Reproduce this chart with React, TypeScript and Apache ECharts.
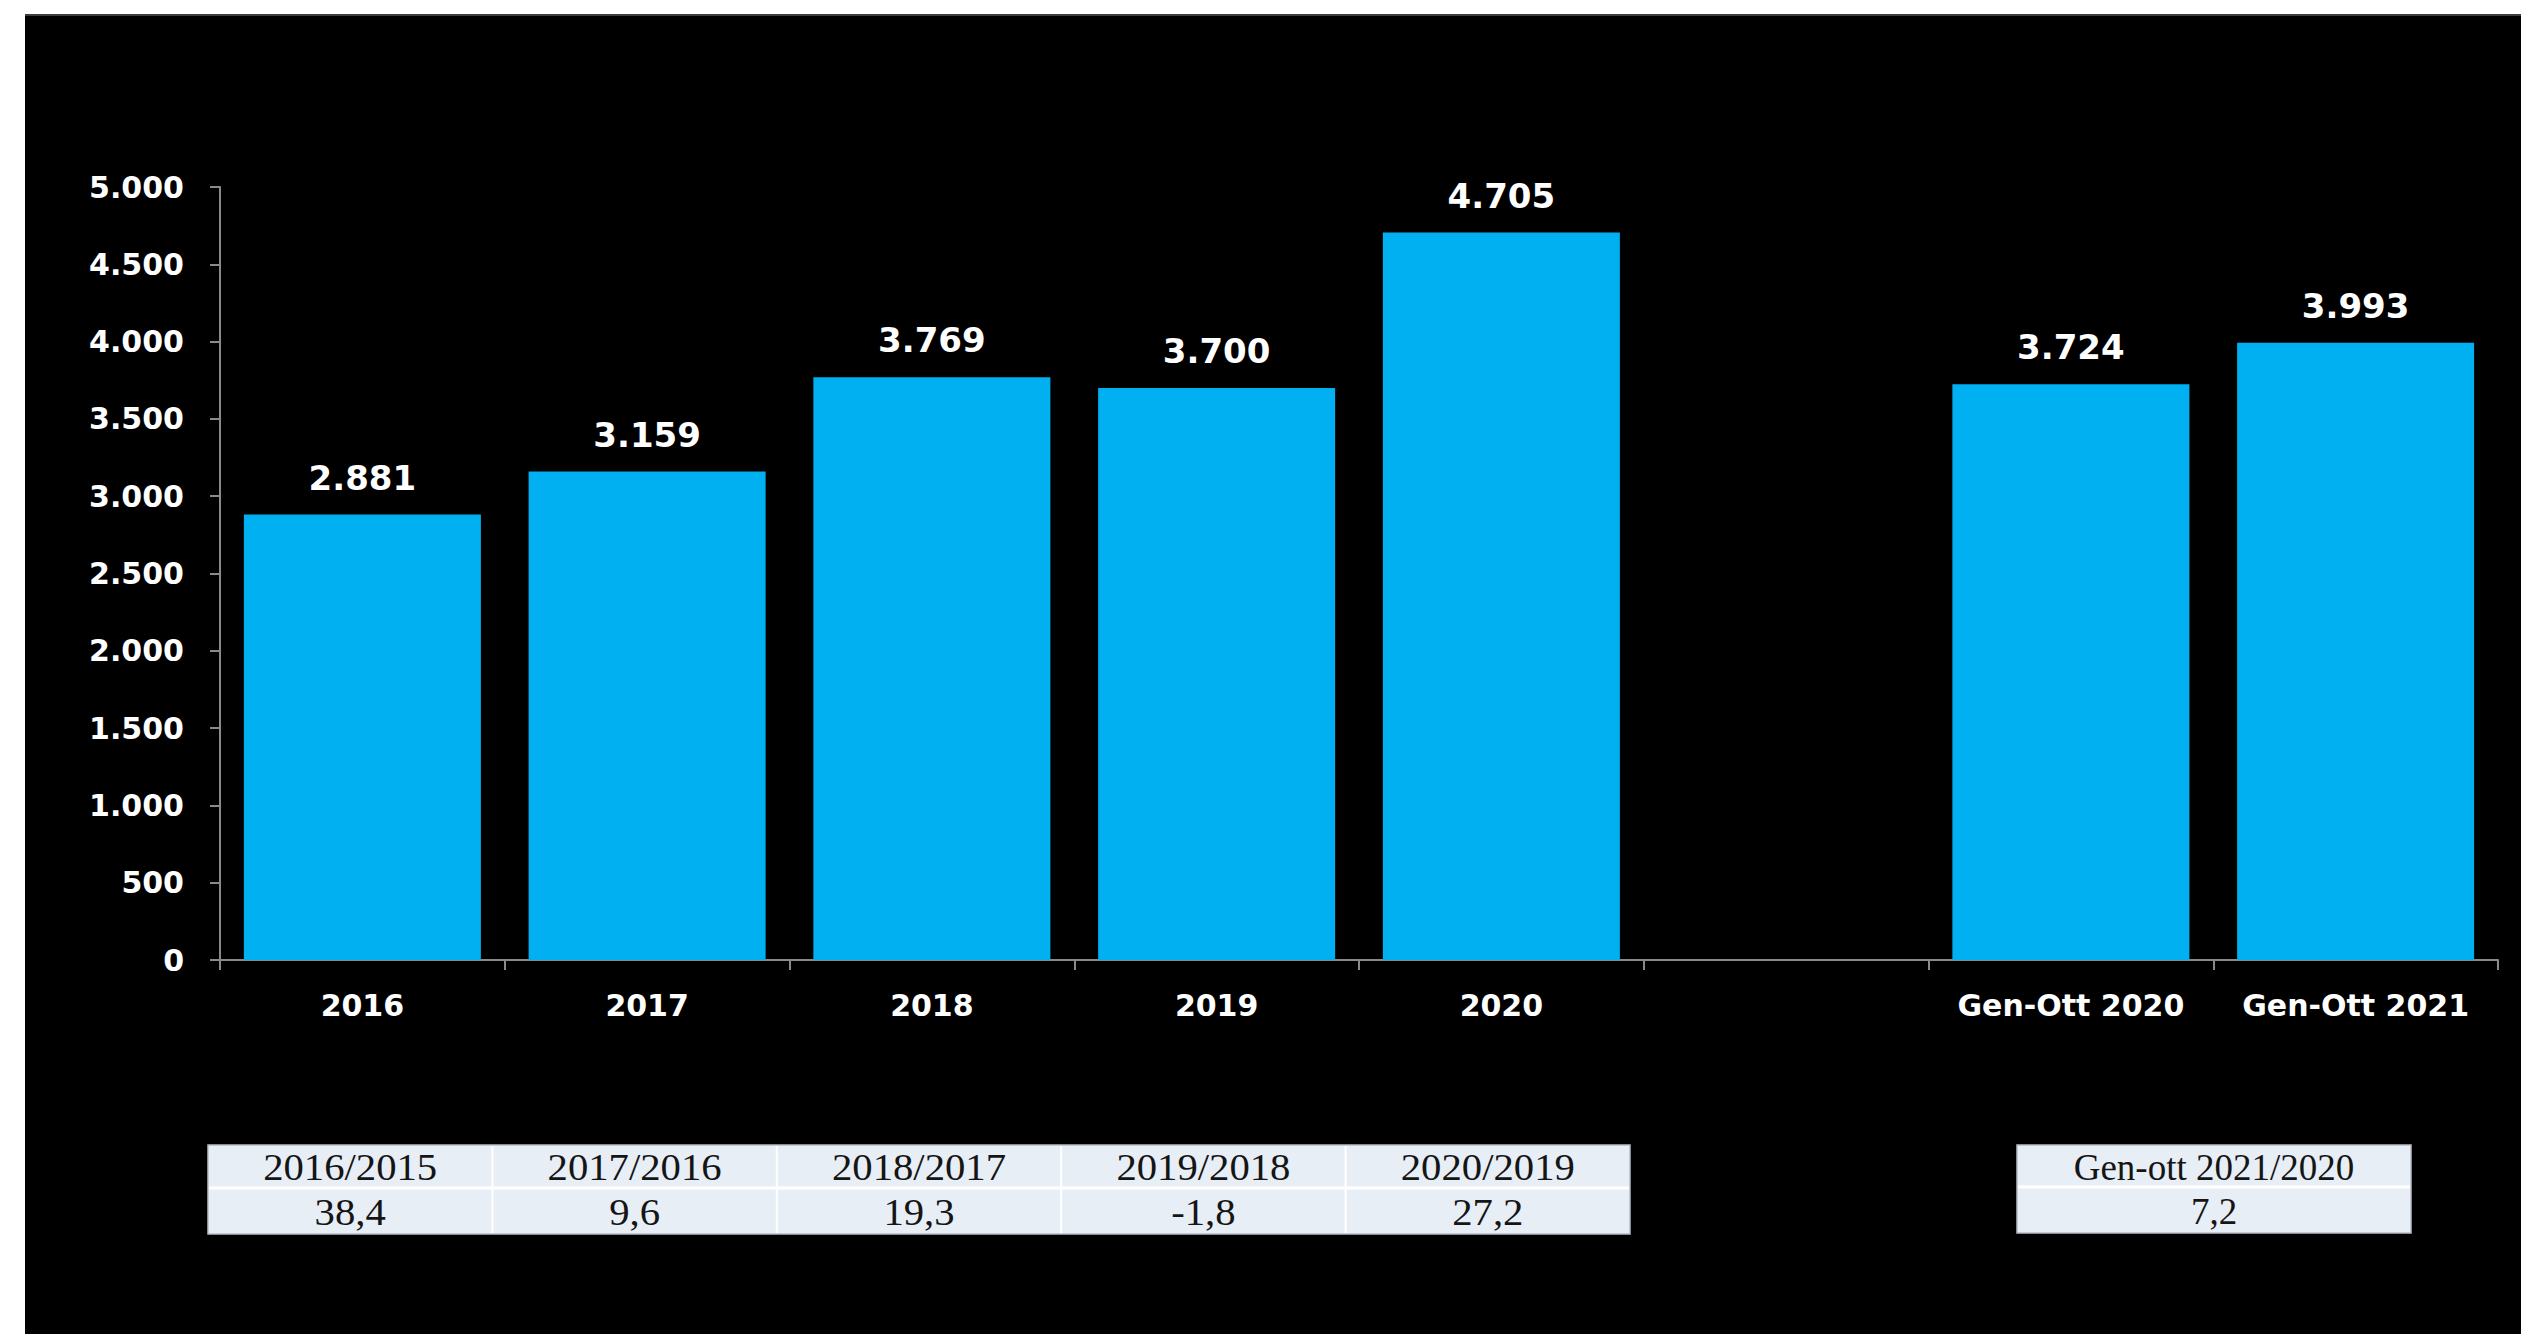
import React, { useEffect, useRef } from "react";
import * as echarts from "echarts";

const categories = ["2016", "2017", "2018", "2019", "2020", "", "Gen-Ott 2020", "Gen-Ott 2021"];
const values: (number | null)[] = [2881, 3159, 3769, 3700, 4705, null, 3724, 3993];
const yMin = 0;
const yMax = 5000;
const yInterval = 500;

const table1Headers = ["2016/2015", "2017/2016", "2018/2017", "2019/2018", "2020/2019"];
const table1Values = ["38,4", "9,6", "19,3", "-1,8", "27,2"];
const table2Headers = ["Gen-ott 2021/2020"];
const table2Values = ["7,2"];

const W = 2521;
const H = 1334;
const BAR_COLOR = "#00B0F0";
const AXIS_COLOR = "#8a8a8a";
const SANS = '"DejaVu Sans", "Liberation Sans", Arial, sans-serif';
const SERIF = '"Liberation Serif", "Times New Roman", serif';

const fmt = (v: number) =>
  String(Math.round(v)).replace(/\B(?=(\d{3})+(?!\d))/g, ".");

function buildTable(
  headers: string[],
  vals: string[],
  x0: number,
  x1: number,
  y0: number,
  yMid: number,
  y1: number,
  scaleX: number
) {
  const els: any[] = [];
  const n = headers.length;
  const cw = (x1 - x0) / n;
  els.push({
    type: "rect",
    shape: { x: x0, y: y0, width: x1 - x0, height: y1 - y0 },
    style: { fill: "#E8EEF6", stroke: "#b8bcc4", lineWidth: 1.5 },
    z: 5,
  });
  els.push({
    type: "line",
    shape: { x1: x0 + 1, y1: yMid, x2: x1 - 1, y2: yMid },
    style: { stroke: "#ffffff", lineWidth: 3 },
    z: 6,
  });
  for (let i = 1; i < n; i++) {
    const cx = x0 + cw * i;
    els.push({
      type: "line",
      shape: { x1: cx, y1: y0 + 1, x2: cx, y2: y1 - 1 },
      style: { stroke: "#ffffff", lineWidth: 2 },
      z: 6,
    });
  }
  const rows = [
    { texts: headers, cy: (y0 + yMid) / 2 + 1 },
    { texts: vals, cy: (yMid + y1) / 2 + 1 },
  ];
  rows.forEach((r) => {
    r.texts.forEach((t, i) => {
      els.push({
        type: "text",
        x: x0 + cw * (i + 0.5),
        y: r.cy,
        scaleX,
        z: 7,
        style: {
          text: t,
          fill: "#151515",
          fontSize: 37,
          fontFamily: SERIF,
          fontWeight: "normal",
          align: "center",
          verticalAlign: "middle",
          textAlign: "center",
          textVerticalAlign: "middle",
        },
      });
    });
  });
  return els;
}

export default function App() {
  const ref = useRef<HTMLDivElement>(null);

  useEffect(() => {
    if (!ref.current) return;
    const chart = echarts.init(ref.current, undefined, { renderer: "svg" });
    const option: any = {
      animation: false,
      backgroundColor: "transparent",
      grid: { left: 220, right: W - 2498, top: 187, bottom: H - 960, containLabel: false },
      xAxis: {
        type: "category",
        data: categories,
        boundaryGap: true,
        axisLine: { show: true, lineStyle: { color: AXIS_COLOR, width: 2 } },
        axisTick: {
          show: true,
          alignWithLabel: false,
          interval: 0,
          length: 10,
          lineStyle: { color: AXIS_COLOR, width: 2 },
        },
        axisLabel: {
          interval: 0,
          color: "#ffffff",
          fontFamily: SANS,
          fontWeight: "bold",
          fontSize: 30,
          margin: 30,
        },
        splitLine: { show: false },
      },
      yAxis: {
        type: "value",
        min: yMin,
        max: yMax,
        interval: yInterval,
        axisLine: { show: true, lineStyle: { color: AXIS_COLOR, width: 2 } },
        axisTick: { show: true, length: 10, lineStyle: { color: AXIS_COLOR, width: 2 } },
        axisLabel: {
          color: "#ffffff",
          fontFamily: SANS,
          fontWeight: "bold",
          fontSize: 30,
          margin: 36,
          formatter: (v: number) => fmt(v),
        },
        splitLine: { show: false },
      },
      series: [
        {
          type: "bar",
          data: values,
          barWidth: 237,
          itemStyle: { color: BAR_COLOR },
          label: {
            show: true,
            position: "top",
            distance: 20,
            color: "#ffffff",
            fontFamily: SANS,
            fontWeight: "bold",
            fontSize: 34,
            formatter: (p: any) => (p.value == null ? "" : fmt(p.value)),
          },
        },
      ],
      graphic: [
        ...buildTable(table1Headers, table1Values, 208, 1630, 1145, 1188, 1234, 1.1),
        ...buildTable(table2Headers, table2Values, 2017, 2411, 1145, 1187, 1233, 1.0),
      ],
    };
    chart.setOption(option);
    return () => chart.dispose();
  }, []);

  return (
    <div
      style={{
        position: "absolute",
        left: 0,
        top: 0,
        width: W,
        height: H,
        background: "#ffffff",
        overflow: "hidden",
      }}
    >
      <div
        style={{
          position: "absolute",
          left: 25,
          top: 14,
          width: W - 25,
          height: H - 14,
          background: "#000000",
          borderTop: "2px solid #3c3c3c",
          boxSizing: "border-box",
        }}
      />
      <div ref={ref} style={{ position: "absolute", left: 0, top: 0, width: W, height: H }} />
    </div>
  );
}
